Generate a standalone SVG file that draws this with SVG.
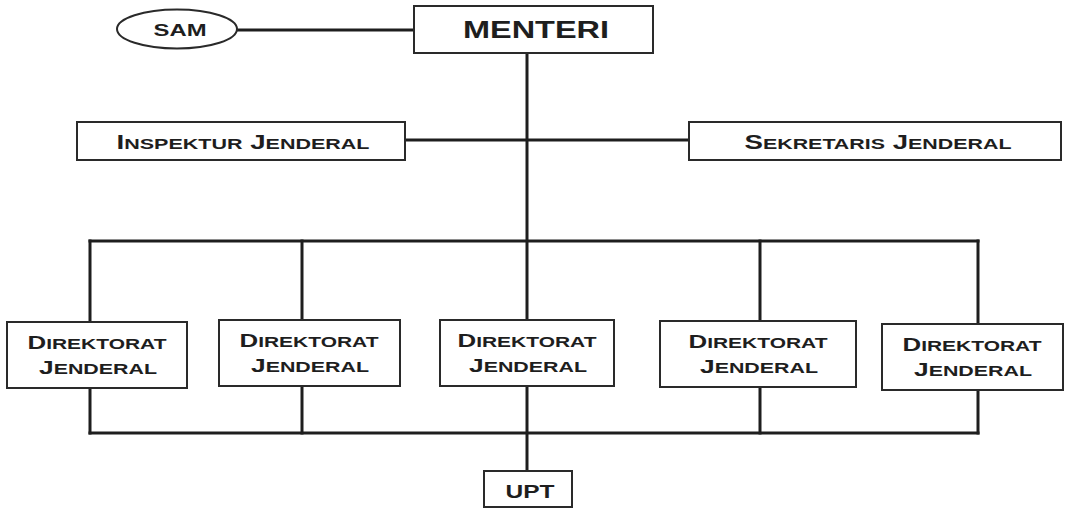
<svg xmlns="http://www.w3.org/2000/svg" width="1071" height="510" viewBox="0 0 1071 510">
  <style>
    .box { fill: #ffffff; stroke: #2a2a2a; stroke-width: 2; }
    .wire { fill: none; stroke: #1e1e1e; stroke-width: 3; stroke-linecap: square; }
    .lbl { font-family: "Liberation Sans", Arial, sans-serif; font-weight: bold; fill: #1e1e1e; text-anchor: middle; }
    .sc { font-size: 15px; }
    .sc2 { font-size: 15.5px; }
  </style>
  <rect width="1071" height="510" fill="#ffffff"/>

  <!-- connectors -->
  <g id="connectors">
    <path class="wire" d="M237,30 H414"/>
    <path class="wire" d="M527,53 V320"/>
    <path class="wire" d="M527,386 V471"/>
    <path class="wire" d="M405,140 H689"/>
    <path class="wire" d="M90,241 H978"/>
    <path class="wire" d="M90,241 V322 M302,241 V320 M760,241 V321 M978,241 V324"/>
    <path class="wire" d="M90,433 H978"/>
    <path class="wire" d="M90,388 V433 M302,386 V433 M760,387 V433 M978,390 V433"/>
  </g>

  <g id="sam">
    <ellipse class="box" cx="177" cy="29" rx="60" ry="19.5"/>
    <text class="lbl" x="180" y="36" font-size="17" textLength="53" lengthAdjust="spacingAndGlyphs">SAM</text>
  </g>

  <g id="menteri">
    <rect class="box" x="414" y="6" width="239" height="47"/>
    <text class="lbl" x="536" y="38" font-size="24" textLength="146" lengthAdjust="spacingAndGlyphs">MENTERI</text>
  </g>

  <g id="inspektur-jenderal">
    <rect class="box" x="77" y="122" width="328" height="38"/>
    <text class="lbl" x="243" y="149" font-size="20" textLength="253" lengthAdjust="spacingAndGlyphs">I<tspan class="sc2">NSPEKTUR</tspan> J<tspan class="sc2">ENDERAL</tspan></text>
  </g>

  <g id="sekretaris-jenderal">
    <rect class="box" x="689" y="122" width="372" height="38"/>
    <text class="lbl" x="878" y="149" font-size="20" textLength="267" lengthAdjust="spacingAndGlyphs">S<tspan class="sc2">EKRETARIS</tspan> J<tspan class="sc2">ENDERAL</tspan></text>
  </g>

  <g id="dirjen-1">
    <rect class="box" x="7" y="322" width="180" height="66"/>
    <text class="lbl" x="97" y="349" font-size="18.5" textLength="139" lengthAdjust="spacingAndGlyphs">D<tspan class="sc">IREKTORAT</tspan></text>
    <text class="lbl" x="98" y="374" font-size="18.5" textLength="118" lengthAdjust="spacingAndGlyphs">J<tspan class="sc">ENDERAL</tspan></text>
  </g>

  <g id="dirjen-2">
    <rect class="box" x="219" y="320" width="181" height="66"/>
    <text class="lbl" x="309" y="347" font-size="18.5" textLength="139" lengthAdjust="spacingAndGlyphs">D<tspan class="sc">IREKTORAT</tspan></text>
    <text class="lbl" x="310" y="372" font-size="18.5" textLength="118" lengthAdjust="spacingAndGlyphs">J<tspan class="sc">ENDERAL</tspan></text>
  </g>

  <g id="dirjen-3">
    <rect class="box" x="440" y="320" width="174" height="66"/>
    <text class="lbl" x="527" y="347" font-size="18.5" textLength="139" lengthAdjust="spacingAndGlyphs">D<tspan class="sc">IREKTORAT</tspan></text>
    <text class="lbl" x="528" y="372" font-size="18.5" textLength="118" lengthAdjust="spacingAndGlyphs">J<tspan class="sc">ENDERAL</tspan></text>
  </g>

  <g id="dirjen-4">
    <rect class="box" x="660" y="321" width="196" height="66"/>
    <text class="lbl" x="758" y="348" font-size="18.5" textLength="139" lengthAdjust="spacingAndGlyphs">D<tspan class="sc">IREKTORAT</tspan></text>
    <text class="lbl" x="759" y="373" font-size="18.5" textLength="118" lengthAdjust="spacingAndGlyphs">J<tspan class="sc">ENDERAL</tspan></text>
  </g>

  <g id="dirjen-5">
    <rect class="box" x="882" y="324" width="181" height="66"/>
    <text class="lbl" x="972" y="351" font-size="18.5" textLength="139" lengthAdjust="spacingAndGlyphs">D<tspan class="sc">IREKTORAT</tspan></text>
    <text class="lbl" x="973" y="376" font-size="18.5" textLength="118" lengthAdjust="spacingAndGlyphs">J<tspan class="sc">ENDERAL</tspan></text>
  </g>

  <g id="upt">
    <rect class="box" x="484" y="471" width="88" height="36"/>
    <text class="lbl" x="530" y="498" font-size="19" textLength="49" lengthAdjust="spacingAndGlyphs">UPT</text>
  </g>
</svg>
